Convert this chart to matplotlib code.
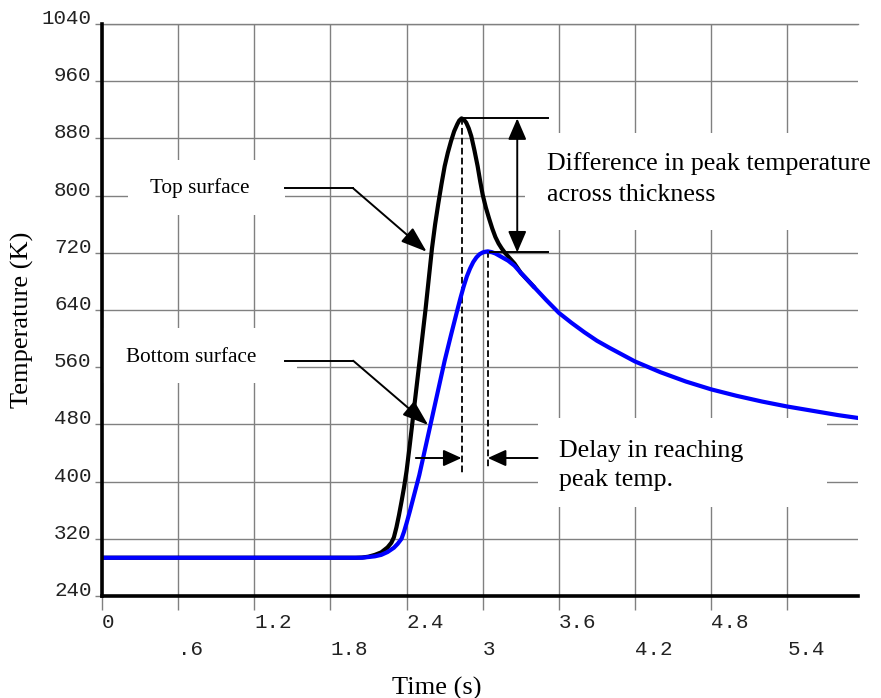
import matplotlib
matplotlib.use('Agg')
import matplotlib.pyplot as plt
from matplotlib.patches import Rectangle

# ---------------- data ----------------
time_top = [0.0, 1.0, 2.0, 2.05, 2.1, 2.15, 2.2, 2.25, 2.28, 2.3, 2.32, 2.34, 2.36,
            2.38, 2.4, 2.425, 2.45, 2.5, 2.55, 2.575, 2.6, 2.625, 2.65, 2.675, 2.7,
            2.725, 2.75, 2.775, 2.8, 2.815, 2.833, 2.85, 2.87, 2.89, 2.91, 2.935,
            2.96, 2.98, 3.0, 3.025, 3.05, 3.075, 3.1, 3.125, 3.15, 3.175, 3.2,
            3.25, 3.3, 3.4]
temp_top = [293.5, 293.5, 293.5, 293.8, 295, 297.5, 301, 308, 314.5, 322, 336, 353, 372,
            392, 415, 451, 489, 565, 642, 684, 726, 760, 789, 816, 841,
            860, 876, 890, 900, 905, 908, 906.5, 902, 894, 883, 863,
            841, 820, 801, 783, 768, 754, 742, 733, 726, 720, 715,
            705, 692, 673]

time_bottom = [0.0, 1.0, 2.0, 2.05, 2.1, 2.15, 2.2, 2.25, 2.3, 2.33, 2.36, 2.38, 2.4,
               2.425, 2.45, 2.475, 2.5, 2.55, 2.6, 2.65, 2.7, 2.75, 2.8, 2.825, 2.85,
               2.875, 2.9, 2.925, 2.95, 2.975, 3.0, 3.02, 3.04, 3.07, 3.1, 3.15, 3.2,
               3.25, 3.3, 3.4, 3.5, 3.6, 3.7, 3.8, 3.9, 4.0, 4.2, 4.4, 4.6, 4.8,
               5.0, 5.2, 5.4, 5.6, 5.8, 5.957]
temp_bottom = [293.5, 293.5, 293.5, 293.6, 294.5, 295.5, 297.5, 301.5, 307.5, 313, 320, 330, 342,
               358, 375, 392, 409, 449, 489, 529, 569, 605, 640, 657, 673,
               687, 698, 707, 713.5, 718, 720.5, 721.5, 722, 721, 719, 714, 709,
               702, 692, 673, 654, 636, 622, 609, 597, 587, 568, 553, 540, 529,
               520, 512, 505, 499, 493, 489]

xticks = [0, 0.6, 1.2, 1.8, 2.4, 3.0, 3.6, 4.2, 4.8, 5.4]
xtick_labels = ['0', '.6', '1.2', '1.8', '2.4', '3', '3.6', '4.2', '4.8', '5.4']
yticks = [240, 320, 400, 480, 560, 640, 720, 800, 880, 960, 1040]
ytick_labels = ['240', '320', '400', '480', '560', '640', '720', '800', '880', '960', '1040']

# ---------------- figure ----------------
SERIF = 'Liberation Serif'
MONO = 'Liberation Mono'
GRID = '#808080'

fig = plt.figure(figsize=(8.81, 6.98), dpi=100)
ax = fig.add_axes([102 / 881, 1 - 596 / 698, 756 / 881, 572 / 698])
ax.set_xlim(0, 5.957)
ax.set_ylim(240, 1040)
ax.set_axisbelow(True)

ax.set_xticks(xticks)
ax.set_xticklabels(xtick_labels, ha='left', fontfamily=MONO, fontsize=15, color='#222222')
ax.set_yticks(yticks)
ax.set_yticklabels(ytick_labels, fontfamily=MONO, fontsize=15, color='#222222')
ax.grid(True, color=GRID, lw=1.0)
ax.tick_params(axis='x', direction='out', length=10, width=1.0, color=GRID, pad=2)
ax.tick_params(axis='y', direction='out', length=5, width=1.0, color=GRID, pad=2.5)
for i, tk in enumerate(ax.xaxis.get_major_ticks()):
    tk.set_pad(2 if i % 2 == 0 else 21.5)
for lab in ax.get_yticklabels():
    lab.set_verticalalignment('baseline')

for s in ['left', 'bottom']:
    ax.spines[s].set_linewidth(2.6)
    ax.spines[s].set_color('black')
    ax.spines[s].set_zorder(5)
ax.spines['right'].set_visible(False)
ax.spines['top'].set_color(GRID)
ax.spines['top'].set_linewidth(1.0)

# white boxes behind annotations (layout)
for (x0, y0, x1, y1) in [(0.204, 773, 1.44, 849.8),
                         (0.0, 537.9, 1.535, 614.8),
                         (3.333, 751.9, 6.0, 887.6),
                         (3.435, 364.5, 5.713, 489)]:
    ax.add_patch(Rectangle((x0, y0), x1 - x0, y1 - y0, facecolor='white',
                           edgecolor='none', zorder=1))

# curves
ax.plot(time_top, temp_top, color='black', lw=3.0, zorder=3)
ax.plot(time_bottom, temp_bottom, color='#0000ff', lw=3.0, zorder=3.2)

# peaks from data
i_top = temp_top.index(max(temp_top))
i_bot = temp_bottom.index(max(temp_bottom))
t_pk_top, T_pk_top = time_top[i_top], temp_top[i_top]
t_pk_bot, T_pk_bot = time_bottom[i_bot], temp_bottom[i_bot]

ann_lw = 1.4
# horizontal peak lines
ax.plot([t_pk_top, 3.516], [T_pk_top, T_pk_top], color='k', lw=ann_lw, zorder=4)
ax.plot([3.057, 3.516], [T_pk_bot - 1.5, T_pk_bot - 1.5], color='k', lw=ann_lw, zorder=4)
# double arrow
ax.annotate('', xy=(3.272, T_pk_top), xytext=(3.272, T_pk_bot - 1.5),
            arrowprops=dict(arrowstyle='<|-|>,head_length=0.65,head_width=0.28',
                            mutation_scale=20, lw=ann_lw, color='k',
                            shrinkA=0, shrinkB=0), zorder=4)
# dashed lines at peaks
ax.plot([t_pk_top, t_pk_top], [T_pk_top, 409], color='k', lw=1.3,
        linestyle=(0, (3.7, 1.8)), zorder=2)
ax.plot([t_pk_bot, t_pk_bot], [T_pk_bot, 417.6], color='k', lw=1.3,
        linestyle=(0, (3.7, 1.8)), zorder=2)
# delay arrows
delay_arrow = dict(arrowstyle='-|>,head_length=0.55,head_width=0.25',
                   mutation_scale=20, lw=ann_lw, color='k', shrinkA=0, shrinkB=0)
ax.annotate('', xy=(t_pk_top, 433), xytext=(2.473, 433), arrowprops=delay_arrow, zorder=4)
ax.annotate('', xy=(t_pk_bot, 433), xytext=(3.432, 433), arrowprops=delay_arrow, zorder=4)

# leader arrows
leader_arrow = dict(arrowstyle='-|>,head_length=0.8,head_width=0.28',
                    mutation_scale=20, lw=ann_lw, color='k', shrinkA=0, shrinkB=0)
ax.plot([1.44, 1.979], [810.2, 810.2], color='k', lw=ann_lw, zorder=4)
ax.annotate('', xy=(2.558, 721.5), xytext=(1.979, 810.2), arrowprops=leader_arrow, zorder=4)
ax.plot([1.44, 1.979], [569.1, 569.1], color='k', lw=ann_lw, zorder=4)
ax.annotate('', xy=(2.570, 479.2), xytext=(1.979, 569.1), arrowprops=leader_arrow, zorder=4)

# texts
ax.text(0.377, 804.1, 'Top surface', fontfamily=SERIF, fontsize=15.3, ha='left',
        va='baseline', zorder=6)
ax.text(0.188, 567.7, 'Bottom surface', fontfamily=SERIF, fontsize=15.3, ha='left',
        va='baseline', zorder=6)
ax.text(3.503, 835.8, 'Difference in peak temperature', fontfamily=SERIF, fontsize=18.7,
        ha='left', va='baseline', zorder=6)
ax.text(3.503, 792.9, 'across thickness', fontfamily=SERIF, fontsize=18.7,
        ha='left', va='baseline', zorder=6)
ax.text(3.6, 434.8, 'Delay in reaching', fontfamily=SERIF, fontsize=18.7,
        ha='left', va='baseline', zorder=6)
ax.text(3.6, 393.8, 'peak temp.', fontfamily=SERIF, fontsize=18.7,
        ha='left', va='baseline', zorder=6)

fig.text(22 / 881, 1 - 320 / 698, 'Temperature (K)', fontfamily=SERIF, fontsize=19,
         rotation=90, ha='center', va='center')
fig.text(437 / 881, 1 - 688 / 698, 'Time (s)', fontfamily=SERIF, fontsize=19,
         ha='center', va='center')

fig.savefig('out.png', dpi=100)
